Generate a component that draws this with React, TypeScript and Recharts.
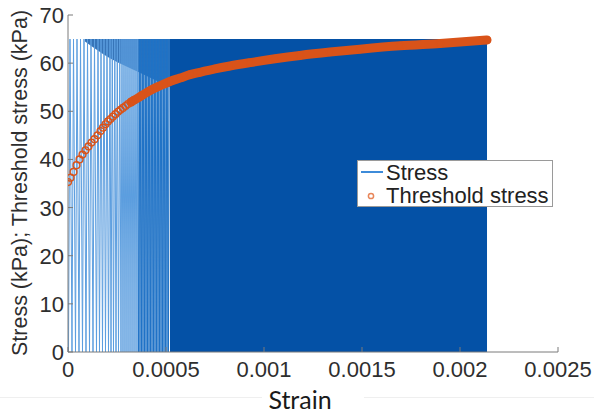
import React from 'react';
import {
  ComposedChart, XAxis, YAxis, Line, Area, Scatter, Legend,
} from 'recharts';

// ---- axis ticks ----
const xTicks = [0, 0.0005, 0.001, 0.0015, 0.002, 0.0025];
const xTickLabels = ['0', '0.0005', '0.001', '0.0015', '0.002', '0.0025'];
const yTicks = [0, 10, 20, 30, 40, 50, 60, 70];
const yTickLabels = ['0', '10', '20', '30', '40', '50', '60', '70'];

// ---- Stress: individual loading cycles in the sparse early part ----
const stressValleyStrain = [
  0.0000026, 0.0000204, 0.0000383, 0.0000561, 0.0000740, 0.0000918, 0.0001097, 0.0001276,
  0.0001454, 0.0001607, 0.0001760, 0.0001913, 0.0002066, 0.0002194, 0.0002321, 0.0002449,
  0.0002577, 0.0002704, 0.0002806, 0.0002908, 0.0003010, 0.0003112, 0.0003214, 0.0003316,
  0.0003418, 0.0003520, 0.0003597, 0.0003673, 0.0003750, 0.0003826, 0.0003903, 0.0003980,
  0.0004056, 0.0004133, 0.0004209, 0.0004286, 0.0004362, 0.0004439, 0.0004515, 0.0004592,
  0.0004668, 0.0004745, 0.0004821, 0.0004898, 0.0004974, 0.0005051, 0.0005128,
];
const stressPeakStrain = [
  0.0000102, 0.0000281, 0.0000459, 0.0000638, 0.0000816, 0.0000995, 0.0001173, 0.0001352,
  0.0001531, 0.0001684, 0.0001837, 0.0001990, 0.0002143, 0.0002260, 0.0002388, 0.0002515,
  0.0002643, 0.0002755, 0.0002857, 0.0002959, 0.0003061, 0.0003163, 0.0003265, 0.0003367,
  0.0003469, 0.0003561, 0.0003638, 0.0003714, 0.0003791, 0.0003867, 0.0003944, 0.0004020,
  0.0004097, 0.0004173, 0.0004250, 0.0004327, 0.0004403, 0.0004480, 0.0004556, 0.0004633,
  0.0004709, 0.0004786, 0.0004862, 0.0004939, 0.0005015, 0.0005092, 0.0005166,
];
const stressPeakKPa = [
  65, 65, 65, 65, 65, 65, 65, 65, 65, 65, 65, 65, 65, 65, 65, 65,
  65, 65, 65, 65, 65, 65, 65, 65, 65, 65, 65, 65, 65, 65, 65, 65,
  65, 65, 65, 65, 65, 65, 65, 65, 65, 65, 65, 65, 65, 65, 65,
];
// cycles before this index are drawn in the paler early tone
const earlyCycleCount = 26;

// densely packed cycles (render as a solid block)
const denseStrain = [0.0005204, 0.0021378];
const denseKPa = [65, 65];

// overlapping tops of early cycles
const topBandStrain = [0.0000867, 0.000214, 0.000367, 0.0005204];
const topBandLowKPa = [64.5, 61, 58, 55];
const topBandHighKPa = [65, 65, 65, 65];

// ---- Threshold stress ----
const thresholdStrain = [
  0, 0.0000128, 0.0000281, 0.0000434, 0.0000587, 0.0000740, 0.0000893, 0.0001046,
  0.0001199, 0.0001352, 0.0001505, 0.0001658, 0.0001786, 0.0001913, 0.0002041, 0.0002168,
  0.0002296, 0.0002423, 0.0002551, 0.0002679, 0.0002806, 0.0002934, 0.0003061, 0.0003214,
  0.0003367, 0.0003776, 0.0004184, 0.0004694, 0.0005204, 0.0005714, 0.0006224, 0.0006735,
  0.0007500, 0.0008265, 0.0009286, 0.0010561, 0.0011837, 0.0013367, 0.0014898, 0.0016939,
  0.0018980, 0.0021378,
];
const thresholdKPa = [
  35.3, 36.2, 37.4, 38.8, 40.0, 41.0, 41.9, 42.7,
  43.5, 44.2, 45.0, 45.9, 46.6, 47.3, 47.9, 48.4,
  48.9, 49.4, 49.9, 50.3, 50.7, 51.1, 51.5, 51.9,
  52.3, 53.3, 54.3, 55.3, 56.2, 56.9, 57.6, 58.1,
  58.8, 59.4, 60.1, 60.9, 61.6, 62.3, 62.9, 63.6,
  64.1, 64.8,
];

// ---- build series tables ----
const buildCycles = (from: number, to: number) => {
  const out: { x: number; y: number }[] = [];
  for (let i = from; i < to; i++) {
    out.push({ x: stressValleyStrain[i], y: 0 });
    out.push({ x: stressPeakStrain[i], y: stressPeakKPa[i] });
  }
  if (to < stressValleyStrain.length) out.push({ x: stressValleyStrain[to], y: 0 });
  return out;
};
const stressEarlyData = buildCycles(0, earlyCycleCount);
const stressLateData = buildCycles(earlyCycleCount, stressValleyStrain.length);
const denseData = denseStrain.map((s, i) => ({ x: s, y: denseKPa[i] }));
const topBandData = topBandStrain.map((s, i) => ({ x: s, band: [topBandLowKPa[i], topBandHighKPa[i]] }));
const thresholdData = thresholdStrain.map((s, i) => ({ x: s, y: thresholdKPa[i] }));
const thresholdBandData = thresholdData.filter((d) => d.x >= 0.00032);

const FONT = '"Liberation Sans", Arial, Helvetica, sans-serif';
const AXIS = '#7a7a7a';
const TXT = '#2e2e2e';

const XTick = (props: any) => {
  const { x, y, payload } = props;
  const idx = xTicks.indexOf(payload.value);
  return (
    <g>
      <line x1={x} y1={y} x2={x} y2={y - 5} stroke={AXIS} strokeWidth={1} />
      <text x={x} y={y + 25} textAnchor="middle" fontFamily={FONT} fontSize={22} fill={TXT}>
        {xTickLabels[idx]}
      </text>
    </g>
  );
};
const TopTick = (props: any) => {
  const { x, y } = props;
  return <line x1={x} y1={y} x2={x} y2={y + 5} stroke={AXIS} strokeWidth={1} />;
};
const YTick = (props: any) => {
  const { x, y, payload } = props;
  const idx = yTicks.indexOf(payload.value);
  return (
    <g>
      <line x1={x} y1={y} x2={x + 5} y2={y} stroke={AXIS} strokeWidth={1} />
      <text x={x - 4} y={y + 8} textAnchor="end" fontFamily={FONT} fontSize={22} fill={TXT}>
        {yTickLabels[idx]}
      </text>
    </g>
  );
};
const RightTick = (props: any) => {
  const { x, y } = props;
  return <line x1={x} y1={y} x2={x - 5} y2={y} stroke={AXIS} strokeWidth={1} />;
};

const YLabel = () => (
  <text
    x={27}
    y={183}
    transform="rotate(-90, 27, 183)"
    textAnchor="middle"
    fontFamily={FONT}
    fontSize={21.5}
    fill={TXT}
  >
    Stress (kPa); Threshold stress (kPa)
  </text>
);
const XLabel = () => (
  <text x={300} y={409} textAnchor="middle" fontFamily="Lato, 'Open Sans', sans-serif" fontSize={25} fill="#1a1a1a">
    Strain
  </text>
);

const LegendContent = (props: any) => {
  const items = (props.payload || []).filter((p: any) => p.type !== 'none');
  return (
    <div
      style={{
        width: 196,
        height: 47,
        boxSizing: 'border-box',
        background: '#fff',
        border: '1px solid #9a9a9a',
        fontFamily: FONT,
        fontSize: 22,
        color: '#222',
        lineHeight: '23px',
        whiteSpace: 'nowrap',
        overflow: 'visible',
      }}
    >
      {items.map((it: any) => (
        <div key={it.value} style={{ display: 'flex', alignItems: 'center', height: 23 }}>
          <svg width={28} height={23} style={{ flex: '0 0 28px' }}>
            {it.type === 'line' ? (
              <line x1={3} y1={11} x2={25} y2={11} stroke="#3d8bd9" strokeWidth={2} />
            ) : (
              <circle cx={13} cy={12} r={2.6} fill="none" stroke="#e8865a" strokeWidth={1.5} />
            )}
          </svg>
          <span>{it.value}</span>
        </div>
      ))}
    </div>
  );
};

export default function App() {
  return (
    <div style={{ position: 'absolute', left: 0, top: 0, width: 594, height: 416, background: '#fff' }}>
      <ComposedChart width={594} height={416} margin={{ top: 15, right: 36, bottom: 0, left: 0 }}>
        <XAxis
          xAxisId={0}
          dataKey="x"
          type="number"
          domain={[0, 0.0025]}
          ticks={xTicks}
          allowDataOverflow
          height={64}
          tickSize={0}
          tickMargin={0}
          tickLine={false}
          interval={0}
          axisLine={{ stroke: AXIS, strokeWidth: 1 }}
          tick={<XTick />}
          label={<XLabel />}
        />
        <XAxis
          xAxisId="top"
          orientation="top"
          dataKey="x"
          type="number"
          domain={[0, 0.0025]}
          ticks={xTicks}
          allowDataOverflow
          height={0}
          tickSize={0}
          tickMargin={0}
          tickLine={false}
          interval={0}
          axisLine={{ stroke: AXIS, strokeWidth: 1 }}
          tick={<TopTick />}
        />
        <YAxis
          yAxisId={0}
          type="number"
          domain={[0, 70]}
          ticks={yTicks}
          allowDataOverflow
          width={68}
          tickSize={0}
          tickMargin={0}
          tickLine={false}
          interval={0}
          axisLine={{ stroke: AXIS, strokeWidth: 1 }}
          tick={<YTick />}
          label={<YLabel />}
        />
        <YAxis
          yAxisId="right"
          orientation="right"
          type="number"
          domain={[0, 70]}
          ticks={yTicks}
          allowDataOverflow
          width={0}
          tickSize={0}
          tickMargin={0}
          tickLine={false}
          interval={0}
          axisLine={{ stroke: AXIS, strokeWidth: 1 }}
          tick={<RightTick />}
        />
        <Area
          data={denseData}
          dataKey="y"
          type="linear"
          baseValue={0}
          stroke="none"
          fill="#0451a6"
          fillOpacity={1}
          isAnimationActive={false}
          legendType="none"
          name="Stress block"
        />
        <Area
          data={topBandData}
          dataKey="band"
          type="monotone"
          stroke="none"
          fill="#0451a6"
          fillOpacity={0.8}
          isAnimationActive={false}
          legendType="none"
          name="Stress tops"
        />
        <Line
          data={stressEarlyData}
          dataKey="y"
          name="Stress"
          type="linear"
          stroke="#5c9edf"
          strokeWidth={1}
          dot={false}
          activeDot={false}
          legendType="line"
          isAnimationActive={false}
        />
        <Line
          data={stressLateData}
          dataKey="y"
          name="Stress late"
          type="linear"
          stroke="#1f72c6"
          strokeWidth={1}
          dot={false}
          activeDot={false}
          legendType="none"
          isAnimationActive={false}
        />
        <Line
          data={thresholdBandData}
          dataKey="y"
          name="Threshold band"
          type="monotone"
          stroke="#d95319"
          strokeWidth={9}
          strokeLinecap="round"
          strokeLinejoin="round"
          dot={false}
          activeDot={false}
          legendType="none"
          isAnimationActive={false}
        />
        <Scatter
          data={thresholdData}
          dataKey="y"
          name="Threshold stress"
          legendType="circle"
          isAnimationActive={false}
          shape={(p: any) => (
            <circle cx={p.cx} cy={p.cy} r={3.4} fill="none" stroke="#d95319" strokeWidth={1.4} />
          )}
        />
        <Legend
          layout="horizontal"
          verticalAlign="middle"
          align="center"
          content={<LegendContent />}
          wrapperStyle={{ position: 'absolute', left: 357, top: 160, width: 196, height: 47 }}
        />
      </ComposedChart>
      <div style={{ position: 'absolute', left: 0, top: 397, width: 262, height: 1, background: '#efefef' }} />
      <div style={{ position: 'absolute', left: 364, top: 397, width: 230, height: 1, background: '#efefef' }} />
    </div>
  );
}
